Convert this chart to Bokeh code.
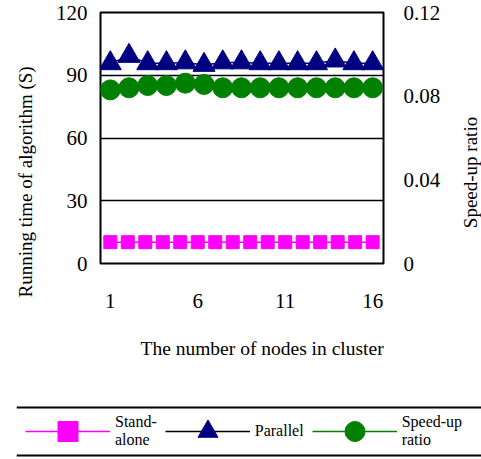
from bokeh.plotting import figure
from bokeh.models import (Range1d, LinearAxis, FixedTicker, Legend, LegendItem,
                          Title, Span, Label)
from bokeh.layouts import column, row
from bokeh.embed import file_html
from bokeh.resources import INLINE

# ---------------- data ----------------
nodes = [1, 2, 3, 4, 5, 6, 7, 8, 9, 10, 11, 12, 13, 14, 15, 16]
stand_alone = [10.2, 10.2, 10.2, 10.2, 10.2, 10.2, 10.2, 10.2,
               10.2, 10.2, 10.2, 10.2, 10.2, 10.2, 10.2, 10.2]

nodes_15 = [1, 2.07, 3.14, 4.21, 5.29, 6.36, 7.43, 8.5,
            9.57, 10.64, 11.71, 12.79, 13.86, 14.93, 16]
parallel = [95.7, 99.2, 95.7, 95.7, 96.1, 94.9, 96.1, 96.1,
            95.7, 95.7, 95.7, 95.7, 97.0, 95.7, 95.7]
speedup = [0.0830, 0.0840, 0.0851, 0.0851, 0.0862, 0.0856, 0.0840, 0.0840,
           0.0840, 0.0840, 0.0840, 0.0840, 0.0840, 0.0840, 0.0840]

x_ticks = [1, 6, 11, 16]
y_ticks = [0, 30, 60, 90, 120]
ratio_ticks = [0, 0.04, 0.08, 0.12]
ratio_labels = ["0", "0.04", "0.08", "0.12"]

FONT = "Liberation Serif"
MAGENTA = "#FF00FF"
NAVY = "#000080"
GREEN = "#008000"

# ---------------- main plot ----------------
p = figure(width=455, height=390,
           x_range=Range1d(0.44, 16.62), y_range=Range1d(0, 120),
           output_backend="svg", toolbar_location=None,
           min_border_left=95, min_border_right=72,
           min_border_top=12, min_border_bottom=127)
p.extra_y_ranges = {"ratio": Range1d(0, 0.12)}

p.outline_line_color = "black"
p.outline_line_width = 2
p.xgrid.visible = False
p.ygrid.ticker = FixedTicker(ticks=y_ticks)
p.ygrid.grid_line_color = "black"
p.ygrid.grid_line_width = 1.5

p.xaxis.ticker = FixedTicker(ticks=x_ticks)
p.yaxis.ticker = FixedTicker(ticks=y_ticks)

right = LinearAxis(y_range_name="ratio", ticker=FixedTicker(ticks=ratio_ticks),
                   major_label_overrides=dict(zip(ratio_ticks, ratio_labels)))
p.add_layout(right, "right")

for ax in p.axis:
    ax.axis_line_color = None
    ax.major_tick_line_color = None
    ax.minor_tick_line_color = None
    ax.major_tick_out = 0
    ax.major_tick_in = 0
    ax.major_label_text_font = FONT
    ax.major_label_text_font_size = "21px"
    ax.major_label_text_color = "black"

p.yaxis[0].major_label_standoff = 13
right.major_label_standoff = 20
p.xaxis.major_label_standoff = 30

# axis titles, placed in the side panels and shifted like the original
p.add_layout(Title(text="Running time of algorithm (S)", align="left", offset=-34,
                   vertical_align="top", standoff=29,
                   text_font=FONT, text_font_size="19px", text_font_style="normal",
                   text_color="black"), "left")
p.add_layout(Title(text="The number of nodes in cluster", align="left", offset=40,
                   vertical_align="top", standoff=54,
                   text_font=FONT, text_font_size="19.5px", text_font_style="normal",
                   text_color="black"), "below")

# series
p.line(nodes, stand_alone, line_color=MAGENTA, line_width=1.5)
p.scatter(nodes, stand_alone, marker="square", size=13,
          fill_color=MAGENTA, line_color=MAGENTA)

p.line(nodes_15, speedup, y_range_name="ratio", line_color=GREEN, line_width=1.5)
p.scatter(nodes_15, speedup, y_range_name="ratio", marker="circle", size=20,
          fill_color=GREEN, line_color=GREEN)

p.line(nodes_15, parallel, line_color=NAVY, line_width=1.5)
p.scatter(nodes_15, parallel, marker="triangle", size=22,
          fill_color=NAVY, line_color=NAVY)

# ---------------- right title strip ----------------
rs = figure(width=26, height=390, x_range=Range1d(0, 26), y_range=Range1d(0, 390),
            output_backend="svg", toolbar_location=None,
            x_axis_type=None, y_axis_type=None,
            min_border_left=0, min_border_right=0,
            min_border_top=0, min_border_bottom=0)
rs.outline_line_color = None
rs.add_layout(Label(x=15, y=218, text="Speed-up ratio", angle=90, angle_units="deg",
                    text_align="center", text_baseline="middle",
                    text_font=FONT, text_font_size="19px", text_color="black"))

# ---------------- legend strip ----------------
lf = figure(width=481, height=69, x_range=Range1d(-2, -1), y_range=Range1d(0, 1),
            output_backend="svg", toolbar_location=None,
            x_axis_type=None, y_axis_type=None,
            min_border_left=16, min_border_right=0,
            min_border_top=0, min_border_bottom=0)
lf.outline_line_color = None
for fig in (p, rs, lf):
    if "frame_align" in fig.properties():
        fig.frame_align = False

lf.add_layout(Span(location=0.754, dimension="width", line_color="black", line_width=2))
lf.add_layout(Span(location=0.058, dimension="width", line_color="black", line_width=2))

# legend renderers (same series; kept outside the strip's visible range)
l1 = lf.line(nodes, stand_alone, line_color=MAGENTA, line_width=1.5)
m1 = lf.scatter(nodes, stand_alone, marker="square", fill_color=MAGENTA, line_color=MAGENTA)
l2 = lf.line(nodes_15, parallel, line_color="black", line_width=1.5)
m2 = lf.scatter(nodes_15, parallel, marker="triangle", fill_color=NAVY, line_color=NAVY)
l3 = lf.line(nodes_15, speedup, line_color=GREEN, line_width=1.5)
m3 = lf.scatter(nodes_15, speedup, marker="circle", fill_color=GREEN, line_color=GREEN)

legend = Legend(items=[LegendItem(label="Stand-\nalone", renderers=[l1, m1]),
                       LegendItem(label="Parallel", renderers=[l2, m2]),
                       LegendItem(label="Speed-up\nratio", renderers=[l3, m3])],
                orientation="horizontal", location=(9, 3),
                glyph_width=85, glyph_height=50, label_standoff=5, spacing=8,
                padding=0, margin=0, border_line_alpha=0, background_fill_alpha=0,
                label_text_font="Liberation Serif, serif", label_text_font_size="16px",
                label_text_font_style="normal", label_text_color="black")
lf.add_layout(legend)

layout = column(row(p, rs, spacing=0), lf, spacing=0)
open("out.html", "w").write(file_html(layout, INLINE))
